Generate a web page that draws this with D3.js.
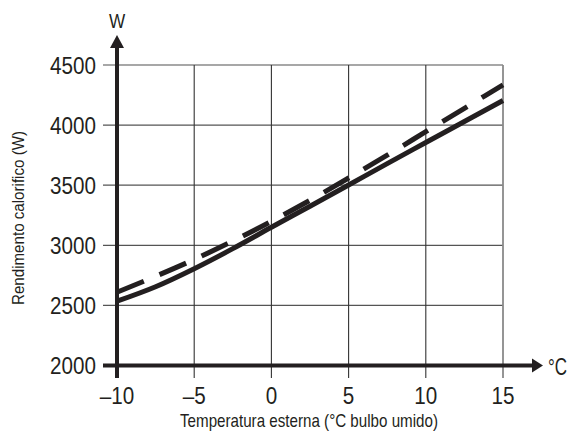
<!DOCTYPE html>
<html>
<head>
<meta charset="utf-8">
<script src="https://cdn.jsdelivr.net/npm/d3@7"></script>
<style>
  html, body { margin: 0; padding: 0; background: #fff; }
  svg { display: block; }
  text { font-family: "Liberation Sans Narrow", "Arial Narrow", "Liberation Sans", sans-serif; fill: #231f20; }
</style>
</head>
<body>
<svg id="chart" width="569" height="437"></svg>
<script>
// Outdoor temperature (°C wet bulb) sampled along both curves
const temps = [-10, -7.5, -5, -2.5, 0, 2.5, 5, 7.5, 10, 12.5, 15];
// Heating capacity, solid curve (W)
const solidW = [2535, 2655, 2805, 2972, 3150, 3325, 3502, 3680, 3855, 4030, 4205];
// Heating capacity, dashed curve (W)
const dashedW = [2610, 2742, 2882, 3035, 3200, 3375, 3560, 3750, 3945, 4140, 4335];

const xTicks = [-10, -5, 0, 5, 10, 15];
const yTicks = [2000, 2500, 3000, 3500, 4000, 4500];
const xTickLabels = ["\u201310", "\u20135", "0", "5", "10", "15"];

const xTitle = "Temperatura esterna (\u00b0C bulbo umido)";
const yTitle = "Rendimento calorifico (W)";
const yUnit = "W";
const xUnit = "\u00b0C";

const ink = "#231f20";
const svg = d3.select("#chart");

const x = d3.scaleLinear().domain([-10, 15]).range([117, 503]);
const y = d3.scaleLinear().domain([2000, 4500]).range([365.5, 65]);

const tickOut = 14;
const narrow = 0.86; // horizontal squeeze for a condensed look
const plotLeft = x(-10), plotBottom = y(2000), plotRight = x(15), plotTop = y(4500);

// Grid lines, extended past the axes as tick marks
const grid = svg.append("g");
grid.selectAll("line.h").data(yTicks.filter(d => d > 2000)).join("line")
  .attr("x1", plotLeft - tickOut).attr("x2", plotRight)
  .attr("y1", d => y(d)).attr("y2", d => y(d))
  .attr("stroke", d => d === 4500 ? "#8a8a8a" : "#555").attr("stroke-width", d => d === 4500 ? 1.6 : 1.2);
grid.selectAll("line.v").data(xTicks.filter(d => d > -10)).join("line")
  .attr("y1", plotTop).attr("y2", plotBottom + 12.5)
  .attr("x1", d => x(d)).attr("x2", d => x(d))
  .attr("stroke", d => d === 15 ? "#8a8a8a" : "#333").attr("stroke-width", d => d === 15 ? 1.8 : 1.1);

// Curves
const line = (vals) => d3.line()
  .x((d, i) => x(temps[i]))
  .y(d => y(d))
  .curve(d3.curveMonotoneX)(vals);

svg.append("path").attr("d", line(solidW))
  .attr("fill", "none").attr("stroke", ink).attr("stroke-width", 5);
svg.append("path").attr("d", line(dashedW))
  .attr("fill", "none").attr("stroke", ink).attr("stroke-width", 5)
  .attr("stroke-dasharray", "29,17");

// Axes with arrowheads
svg.append("line").attr("x1", plotLeft).attr("x2", plotLeft)
  .attr("y1", plotBottom + 12.5).attr("y2", 44)
  .attr("stroke", ink).attr("stroke-width", 4);
svg.append("path")
  .attr("d", `M${plotLeft},35 L${plotLeft - 7},48 L${plotLeft + 7},48 Z`).attr("fill", ink);
svg.append("line").attr("x1", plotLeft - tickOut).attr("x2", 535)
  .attr("y1", plotBottom).attr("y2", plotBottom)
  .attr("stroke", ink).attr("stroke-width", 4);
svg.append("path")
  .attr("d", `M543,${plotBottom} L532,${plotBottom - 7} L532,${plotBottom + 7} Z`).attr("fill", ink);

// Tick labels
svg.append("g").selectAll("text").data(yTicks).join("text")
  .attr("transform", d => `translate(96,${y(d) + 8.6}) scale(${narrow},1)`)
  .attr("text-anchor", "end").attr("font-size", 24)
  .text(d => d);
svg.append("g").selectAll("text").data(xTicks).join("text")
  .attr("transform", d => `translate(${x(d)},403.5) scale(${narrow},1)`)
  .attr("text-anchor", "middle").attr("font-size", 24)
  .text((d, i) => xTickLabels[i]);

// Units and titles
svg.append("text").attr("transform", `translate(${plotLeft},27.5) scale(${narrow},1)`)
  .attr("text-anchor", "middle").attr("font-size", 20).text(yUnit);
svg.append("text").attr("transform", "translate(548,375) scale(0.74,1)")
  .attr("font-size", 23).text(xUnit);
svg.append("text").attr("x", 309).attr("y", 427).attr("text-anchor", "middle")
  .attr("font-size", 19).attr("textLength", 258).attr("lengthAdjust", "spacingAndGlyphs")
  .text(xTitle);
svg.append("text").attr("transform", "translate(24,218) rotate(-90)")
  .attr("text-anchor", "middle").attr("font-size", 16)
  .attr("textLength", 174).attr("lengthAdjust", "spacingAndGlyphs")
  .text(yTitle);
</script>
</body>
</html>
